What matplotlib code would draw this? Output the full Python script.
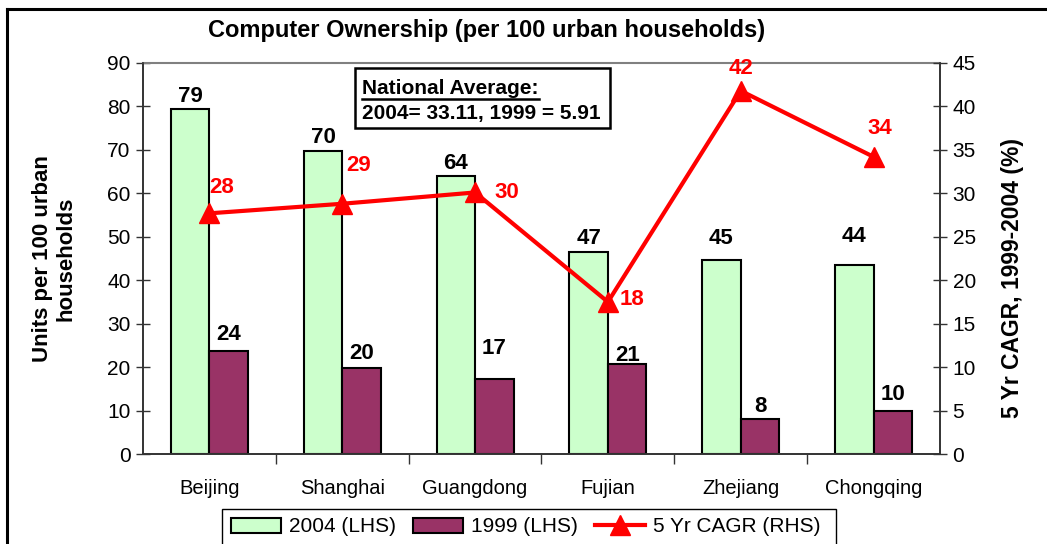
import matplotlib
matplotlib.use('Agg')
import matplotlib.pyplot as plt
import numpy as np
from matplotlib.lines import Line2D
from matplotlib.patches import Rectangle

plt.rcParams['font.family'] = ['Liberation Sans', 'DejaVu Sans']

# ---- data ----
provinces = ['Beijing', 'Shanghai', 'Guangdong', 'Fujian', 'Zhejiang', 'Chongqing']
own_2004 = [79.4, 69.7, 64.1, 46.6, 44.6, 43.6]
own_1999 = [23.7, 19.7, 17.3, 20.8, 8.0, 10.0]
cagr = [27.7, 28.8, 30.1, 17.5, 41.8, 34.2]
left_ticks = list(range(0, 91, 10))
right_ticks = list(range(0, 46, 5))
title = 'Computer Ownership (per 100 urban households)'
box_line1 = 'National Average:'
box_line2 = '2004= 33.11, 1999 = 5.91'

# ---- label placement (style, pixels) ----
off_2004 = [2, 3, 2, 3, 11, 18]
off_1999 = [6, 4, 20, -2, 2, 6]
off_cagr = [(12, 26), (16, 38), (32, 0), (24, 2), (0, 22), (6, 28)]

GREEN = '#CCFFCC'
MAROON = '#993366'
RED = '#FF0000'
SPINE = '#333333'

W, H = 1047, 544
fig = plt.figure(figsize=(W / 100, H / 100), dpi=100)

# outer frame lines
fig.add_artist(Line2D([7 / W, 1.0], [1 - 9 / H, 1 - 9 / H], color='black', lw=2.2, transform=fig.transFigure))
fig.add_artist(Line2D([7 / W, 7 / W], [0, 1 - 9 / H], color='black', lw=2.2, transform=fig.transFigure))

ax = fig.add_axes([143 / W, 90 / H, 797 / W, 391 / H])
x = np.arange(len(provinces))
w = 0.29
ax.bar(x - w / 2, own_2004, w, color=GREEN, edgecolor='black', linewidth=1.5, label='2004 (LHS)', zorder=2)
ax.bar(x + w / 2, own_1999, w, color=MAROON, edgecolor='black', linewidth=1.5, label='1999 (LHS)', zorder=2)
ax.set_xlim(-0.5, 5.5)
ax.set_ylim(0, 90)
ax.set_yticks(left_ticks)
ax.tick_params(axis='y', direction='inout', length=10, width=1, labelsize=15, pad=4, color=SPINE)
ax.set_xticks(x)
ax.set_xticklabels(provinces, fontsize=14.5)
ax.tick_params(axis='x', which='major', length=0, pad=18)
ax.set_xticks(np.arange(0.5, 5, 1), minor=True)
ax.tick_params(axis='x', which='minor', direction='out', length=7, width=1, color=SPINE)
for s in ['left', 'right', 'bottom']:
    ax.spines[s].set_color(SPINE)
    ax.spines[s].set_linewidth(1.2)
ax.spines['top'].set_color('#808080')
ax.spines['top'].set_linewidth(1.5)
ax.set_ylabel('Units per 100 urban\nhouseholds', fontsize=16, fontweight='bold', labelpad=22, linespacing=1.15)

for xi, v, o in zip(x, own_2004, off_2004):
    ax.annotate(f'{v:.0f}', (xi - w / 2, v), xytext=(0, o), textcoords='offset pixels',
                ha='center', va='bottom', fontsize=16, fontweight='bold')
for xi, v, o in zip(x, own_1999, off_1999):
    ax.annotate(f'{v:.0f}', (xi + w / 2, v), xytext=(0, o), textcoords='offset pixels',
                ha='center', va='bottom', fontsize=16, fontweight='bold')

ax2 = ax.twinx()
ax2.plot(x, cagr, color=RED, lw=3, marker='^', ms=14, label='5 Yr CAGR (RHS)', zorder=3)
ax2.set_ylim(0, 45)
ax2.set_yticks(right_ticks)
ax2.tick_params(axis='y', direction='inout', length=10, width=1, labelsize=15, pad=4, color=SPINE)
for s in ['left', 'right', 'bottom']:
    ax2.spines[s].set_color(SPINE)
    ax2.spines[s].set_linewidth(1.2)
ax2.spines['top'].set_visible(False)
ax2.set_ylabel('5 Yr CAGR, 1999-2004 (%)', fontsize=16.5, fontweight='bold')
ax2.yaxis.set_label_coords(1.077, 0.45)

for xi, v, (dx, dy) in zip(x, cagr, off_cagr):
    ax2.annotate(f'{v:.0f}', (xi, v), xytext=(dx, dy), textcoords='offset pixels',
                 ha='center', va='center', fontsize=16, fontweight='bold', color=RED)

# national average box
ax.add_patch(Rectangle((0.266, 0.834), 0.32, 0.153, transform=ax.transAxes, fill=True,
                       facecolor='white', edgecolor='black', lw=1.8, zorder=5))
t1 = ax.text(0.275, 0.935, box_line1, transform=ax.transAxes, fontsize=15, fontweight='bold',
             ha='left', va='center', zorder=6)
ax.text(0.275, 0.87, box_line2, transform=ax.transAxes, fontsize=15, fontweight='bold',
        ha='left', va='center', zorder=6)

fig.text(487 / W, 1 - 31 / H, title, ha='center', va='center', fontsize=17, fontweight='bold')

# legend with a separately drawn frame
fig.add_artist(Rectangle((222 / W, -0.05), (836 - 222) / W, 0.05 + (544 - 509) / H,
                         transform=fig.transFigure, fill=False, edgecolor='black', lw=1.0))
handles = ax.get_legend_handles_labels()[0] + ax2.get_legend_handles_labels()[0]
labels = ['2004 (LHS)', '1999 (LHS)', '5 Yr CAGR (RHS)']
leg = fig.legend(handles, labels, loc='center left', bbox_to_anchor=(231 / W, 1 - 527 / H), ncol=3,
                 fontsize=15, frameon=False, borderpad=0, borderaxespad=0,
                 handlelength=2.4, handletextpad=0.4, columnspacing=0.8)

# underline for the first box line
fig.canvas.draw()
bb = t1.get_window_extent(fig.canvas.get_renderer())
inv = fig.transFigure.inverted()
(x0, y0), (x1, _) = inv.transform([(bb.x0, bb.y0 - 1), (bb.x1, bb.y0 - 1)])
fig.add_artist(Line2D([x0, x1], [y0, y0], color='black', lw=1.8, transform=fig.transFigure, zorder=7))

fig.savefig('out.png', dpi=100)
